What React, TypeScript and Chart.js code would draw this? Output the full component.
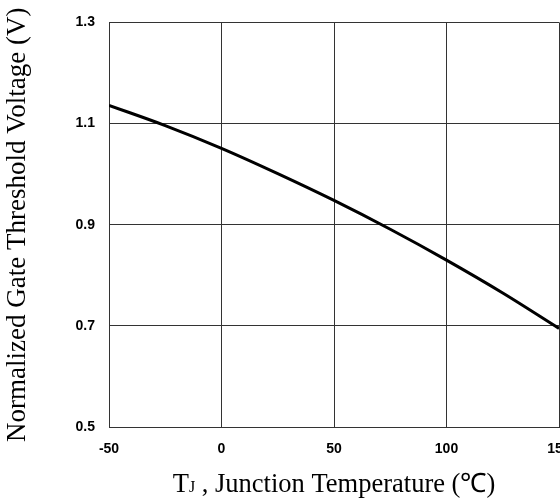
import React, { useEffect, useRef } from "react";
import { Chart, registerables } from "chart.js";

Chart.register(...registerables);

const temperatures = [-50, -25, 0, 25, 50, 75, 100, 125, 150];
const thresholdValues = [1.136, 1.096, 1.051, 1.001, 0.948, 0.891, 0.83, 0.765, 0.695];
const yTickValues = [0.5, 0.7, 0.9, 1.1, 1.3];
const xTickValues = [-50, 0, 50, 100, 150];
const yTitle = "Normalized Gate Threshold Voltage (V)";
const xTitleMain = "T";
const xTitleSub = "J";
const xTitleRest = " , Junction Temperature (\u2103)";

const CANVAS_W = 620;
const CANVAS_H = 502;

export default function App() {
  const ref = useRef<HTMLCanvasElement | null>(null);

  useEffect(() => {
    const canvas = ref.current;
    if (!canvas) return;
    const xTitlePlugin = {
      id: "xTitlePlugin",
      afterDraw(chart: any) {
        const ctx = chart.ctx;
        const area = chart.chartArea;
        ctx.save();
        ctx.fillStyle = "#000";
        ctx.textBaseline = "alphabetic";
        const big = "26.5px 'Liberation Serif', 'Times New Roman', serif";
        const small = "16px 'Liberation Serif', 'Times New Roman', serif";
        ctx.font = big;
        const w1 = ctx.measureText(xTitleMain).width;
        const w3 = ctx.measureText(xTitleRest).width;
        ctx.font = small;
        const w2 = ctx.measureText(xTitleSub).width;
        const total = w1 + w2 + w3;
        const cx = (area.left + 559) / 2;
        let x = cx - total / 2;
        const y = 492;
        ctx.textAlign = "left";
        ctx.font = big;
        ctx.fillText(xTitleMain, x, y);
        x += w1;
        ctx.font = small;
        ctx.fillText(xTitleSub, x, y);
        x += w2;
        ctx.font = big;
        ctx.fillText(xTitleRest, x, y);
        ctx.restore();
      },
    };

    const chart = new Chart(canvas, {
      type: "line",
      data: {
        datasets: [
          {
            data: temperatures.map((t, i) => ({ x: t, y: thresholdValues[i] })),
            borderColor: "#000",
            borderWidth: 3,
            pointRadius: 0,
            fill: false,
            cubicInterpolationMode: "monotone",
          },
        ],
      },
      options: {
        animation: false,
        responsive: false,
        devicePixelRatio: 1,
        layout: { padding: { top: 20, right: CANVAS_W - 559, left: 0, bottom: 0 } },
        plugins: { legend: { display: false }, tooltip: { enabled: false } },
        scales: {
          x: {
            type: "linear",
            min: -50,
            max: 150,
            afterFit: (s: any) => {
              s.height = 75;
            },
            afterBuildTicks: (s: any) => {
              s.ticks = xTickValues.map((v) => ({ value: v }));
            },
            grid: { color: "#333", lineWidth: 1, drawTicks: false },
            border: { color: "#333", width: 1 },
            ticks: {
              color: "#000",
              padding: 14,
              font: { family: "'Liberation Sans', Arial, sans-serif", size: 14, weight: "bold" },
              maxRotation: 0,
              autoSkip: false,
            },
          },
          y: {
            type: "linear",
            min: 0.5,
            max: 1.3,
            afterFit: (s: any) => {
              s.width = 109;
            },
            afterBuildTicks: (s: any) => {
              s.ticks = yTickValues.map((v) => ({ value: v }));
            },
            grid: { color: "#333", lineWidth: 1, drawTicks: false },
            border: { color: "#333", width: 1 },
            ticks: {
              color: "#000",
              padding: 14,
              font: { family: "'Liberation Sans', Arial, sans-serif", size: 14, weight: "bold" },
              callback: (v: any) => Number(v).toFixed(1),
            },
            title: {
              display: true,
              text: yTitle,
              color: "#000",
              padding: { top: 2, bottom: 0 },
              font: { family: "'Liberation Serif', 'Times New Roman', serif", size: 27, weight: "normal" },
            },
          },
        },
      },
      plugins: [xTitlePlugin],
    } as any);
    return () => chart.destroy();
  }, []);

  return (
    <div
      style={{
        position: "absolute",
        left: 0,
        top: 0,
        width: 560,
        height: 502,
        overflow: "hidden",
        background: "#fff",
      }}
    >
      <canvas ref={ref} width={CANVAS_W} height={CANVAS_H} style={{ display: "block" }} />
    </div>
  );
}
